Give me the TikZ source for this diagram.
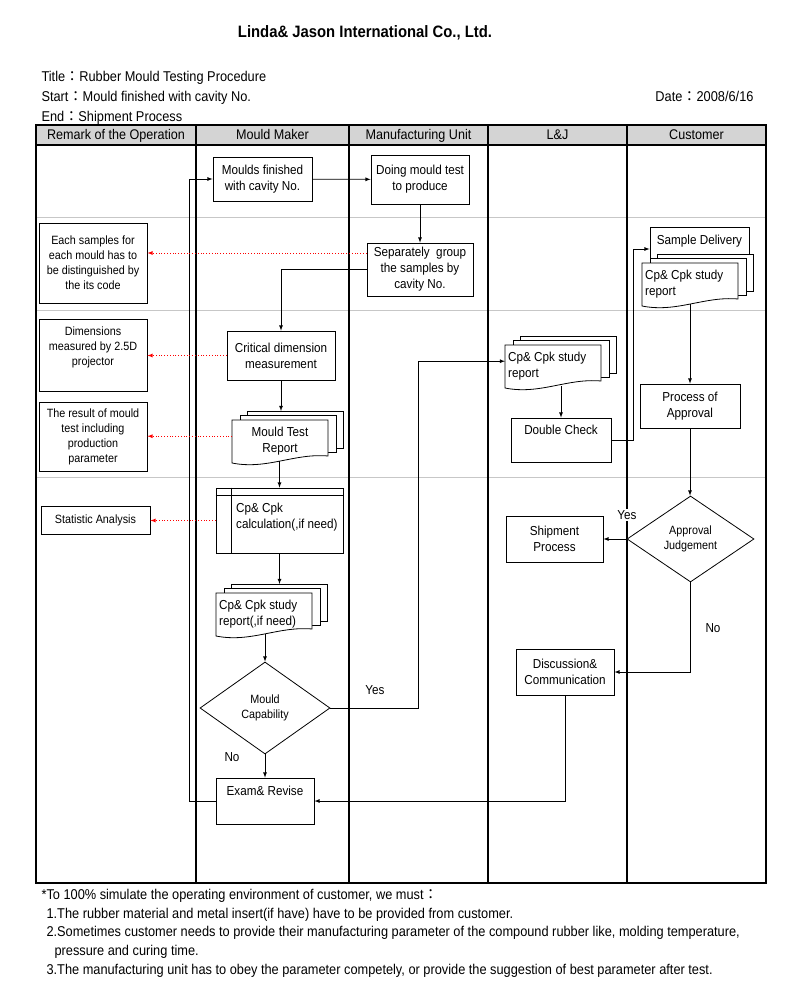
\documentclass[tikz,border=0pt]{standalone}
\usepackage{fontspec}
\setmainfont{Liberation Sans}[FakeStretch=0.9]
\newfontfamily\cjk{Noto Sans CJK TC}
\usetikzlibrary{shapes.geometric}

% stack of three report pages: top-left of front page, name, alignment, text
\newcommand{\docstack}[4]{%
  \begin{scope}[shift={#1}]
    \draw[fill=white, line width=0.8pt] (15.5,-9) rectangle ++(96,37);
    \draw[fill=white, line width=0.8pt] (8,-4.5) rectangle ++(96,37);
    \draw[fill=white, line width=0.8pt] (0,0) -- (96,0) -- (96,36) .. controls (62,33) and (35,50) .. (0,43) -- cycle;
    \node[minimum width=111.5pt, minimum height=50pt, inner sep=0pt, anchor=north west] (#2) at (0,-9) {};
    \node[doc#3, align=#3, inner sep=0pt] at (3,7) {#4};
  \end{scope}}

\begin{document}
\begin{tikzpicture}[x=1pt, y=-1pt,
  every node/.style={font=\fontsize{13}{16}\selectfont},
  box/.style={draw, fill=white, line width=0.8pt, align=center, inner sep=2pt},
  remark/.style={box, font=\fontsize{12}{15}\selectfont, minimum width=108pt},
  decision/.style={draw, fill=white, diamond, line width=0.8pt, inner sep=0pt, align=center, font=\fontsize{12}{15}\selectfont},
  flow/.style={line width=0.8pt, -latex},
  note/.style={red, dotted, line width=0.8pt, -latex},
  lane/.style={black!22, line width=0.8pt},
  head/.style={anchor=base, font=\fontsize{14}{17}\selectfont},
  info/.style={anchor=base west, font=\fontsize{14.2}{17}\selectfont},
  docleft/.style={anchor=north west},
  doccenter/.style={anchor=north, xshift=45pt}]
  \useasboundingbox (0,0) rectangle (800,1000);

  % heading
  \node[font=\bfseries\fontsize{16.5}{19}\selectfont] (company) at (365,33) {Linda\& Jason International Co., Ltd.};
  \node[info] (title) at (38,82) {Title{\cjk ：}Rubber Mould Testing Procedure};
  \node[info] (start) at (38,102) {Start{\cjk ：}Mould finished with cavity No.};
  \node[info] (end) at (38,122) {End{\cjk ：}Shipment Process};
  \node[info, anchor=base east] (date) at (757,102) {Date{\cjk ：}2008/6/16};

  % table
  \fill[black!17] (36,125) rectangle (766,145);
  \foreach \y in {217,310,477}
    \draw[lane] (36,\y) -- (766,\y);
  \draw[line width=1.2pt] (36,145) -- (766,145);
  \foreach \x in {196,349,488,627}
    \draw[line width=1.3pt] (\x,125) -- (\x,883);
  \draw[line width=1.8pt] (36,125) rectangle (766,883);
  \node[head] (h1) at (116,140) {Remark of the Operation};
  \node[head] (h2) at (272.5,140) {Mould Maker};
  \node[head] (h3) at (418.5,140) {Manufacturing Unit};
  \node[head] (h4) at (557.5,140) {L\&J};
  \node[head] (h5) at (696.5,140) {Customer};

  % remarks
  \node[remark, minimum height=80pt] (rm1) at (93,263) {Each samples for\\each mould has to\\be distinguished by\\the its code};
  \node[remark, minimum height=72pt] (rm2) at (93,355) {};
  \node[font=\fontsize{12}{15}\selectfont, align=center, anchor=north] at (93,323) {Dimensions\\measured by 2.5D\\projector};
  \node[remark, minimum height=69pt] (rm3) at (93,436.5) {The result of mould\\test including\\production\\parameter};
  \node[remark, minimum width=109pt, minimum height=28pt] (stat) at (95.5,520) {Statistic Analysis};

  % mould maker
  \node[box, minimum width=99pt, minimum height=44pt] (mould) at (262.5,179) {Moulds finished\\with cavity No.};
  \node[box, minimum width=108pt, minimum height=49pt] (crit) at (281,355.5) {Critical dimension\\measurement};
  \docstack{(232,420)}{mtr}{center}{Mould Test\\Report}
  \node[box, minimum width=127pt, minimum height=65pt] (calc) at (279.5,520.5) {};
  \draw[line width=0.8pt] ([xshift=16pt]calc.north west) -- ([xshift=16pt]calc.south west);
  \draw[line width=0.8pt] ([yshift=-8pt]calc.north west) -- ([yshift=-8pt]calc.north east);
  \node[anchor=north west, align=left, inner sep=0pt] at (236,502.5) {Cp\& Cpk\\calculation(,if need)};
  \docstack{(216,593)}{rep}{left}{Cp\& Cpk study\\report(,if need)}
  \node[decision, minimum width=130pt, minimum height=92pt] (mcap) at (265,708) {Mould\\Capability};
  \node[box, minimum width=98pt, minimum height=46pt] (exam) at (265,801) {};
  \node[anchor=base] at (265,795) {Exam\& Revise};

  % manufacturing unit
  \node[box, minimum width=98pt, minimum height=49pt] (dotest) at (420,179.5) {Doing mould test\\to produce};
  \node[box, minimum width=106pt, minimum height=53pt] (group) at (420,269.5) {Separately\ \ group\\the samples by\\cavity No.};

  % L&J
  \docstack{(505,345)}{ljrep}{left}{Cp\& Cpk study\\report}
  \node[box, minimum width=100pt, minimum height=44pt] (check) at (561,440) {};
  \node[anchor=base] at (561,434) {Double Check};
  \node[box, minimum width=97pt, minimum height=46pt] (ship) at (554.5,539) {Shipment\\Process};
  \node[box, minimum width=98pt, minimum height=46pt] (disc) at (565,672) {Discussion\&\\Communication};

  % customer
  \node[box, minimum width=99pt, minimum height=44pt] (sample) at (699.5,249) {};
  \node[anchor=base] at (699.5,244.5) {Sample Delivery};
  \docstack{(642,263)}{custrep}{left}{Cp\& Cpk study\\report}
  \node[box, minimum width=100pt, minimum height=44pt] (appr) at (690,406) {Process of\\Approval};
  \node[decision, minimum width=127pt, minimum height=86pt] (judge) at (690.5,539) {Approval\\Judgement};

  % flow
  \draw[flow] (mould) -- (dotest);
  \draw[flow] (dotest) -- (group);
  \draw[flow] (group.west) -| (crit.north);
  \draw[flow] (crit.south) -- (crit.south |- mtr.north);
  \draw[flow] (mtr.south -| calc.north) -- (calc.north);
  \draw[flow] (calc.south) -- (calc.south |- rep.north);
  \draw[flow] (rep.south -| mcap.north) -- (mcap.north);
  \draw[flow] (mcap.south) -- (exam.north);
  \node at (232,757) {No};
  \draw[flow] (mcap.east) -- ++(88,0) |- (ljrep.west);
  \node at (375,690) {Yes};
  \draw[flow] (ljrep.south -| check.north) -- (check.north);
  \draw[flow] (check.east) -- ++(22,0) |- (sample.west);
  \draw[flow] (custrep.south -| appr.north) -- (appr.north);
  \draw[flow] (appr.south) -- (appr.south |- judge.north);
  \draw[flow] (judge.west) -- (ship.east);
  \node[fill=white, inner sep=1pt] at (627,515) {Yes};
  \draw[flow] (judge.south) |- (disc.east);
  \node at (713,628) {No};
  \draw[flow] (disc.south) |- (exam.east);
  \draw[flow] (exam.west) -- ++(-26,0) |- (mould.west);

  % remarks links
  \coordinate (g1) at ([yshift=16.5pt]group.west);
  \draw[note] (g1) -- (g1 -| rm1.east);
  \draw[note] (crit.west) -- (crit.west -| rm2.east);
  \draw[note] (mtr.west) -- (mtr.west -| rm3.east);
  \draw[note] (calc.west) -- (calc.west -| stat.east);

  % notes
  \node[info] (n0) at (38,899) {*To 100\% simulate the operating environment of customer, we must{\cjk ：}};
  \node[info] (n1) at (43,918) {1.The rubber material and metal insert(if have) have to be provided from customer.};
  \node[info] (n2) at (43,936) {2.Sometimes customer needs to provide their manufacturing parameter of the compound rubber like, molding temperature,};
  \node[info] (n3) at (51,955) {pressure and curing time.};
  \node[info] (n4) at (43,974) {3.The manufacturing unit has to obey the parameter competely, or provide the suggestion of best parameter after test.};
\end{tikzpicture}
\end{document}
